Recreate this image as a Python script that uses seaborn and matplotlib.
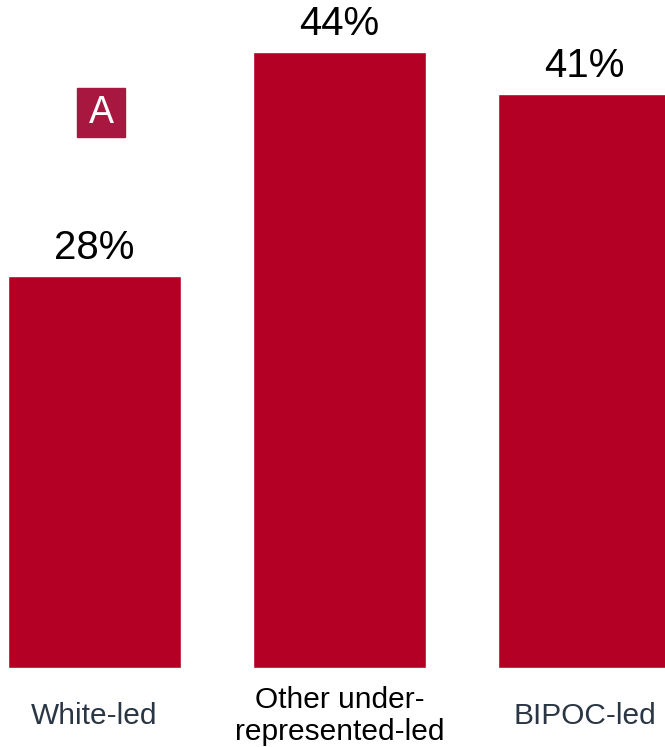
import matplotlib
matplotlib.use("Agg")
import matplotlib.pyplot as plt
import matplotlib.patches as mpatches
import pandas as pd
import seaborn as sns

# values
categories = ["White-led", "Other under-\nrepresented-led", "BIPOC-led"]
shares = [28, 44, 41]
value_labels = ["28%", "44%", "41%"]
label_colors = ["#2b3645", "#000000", "#2b3645"]

df = pd.DataFrame({"group": categories, "share": shares})

sns.set_style("white")
plt.rcParams["font.family"] = ["Liberation Sans", "DejaVu Sans"]

fig = plt.figure(figsize=(6.65, 7.47), dpi=100)
ax = fig.add_axes([0, 1 - 668 / 747, 1, 668 / 747])

sns.barplot(data=df, x="group", y="share", color="#b30024", width=0.706,
            saturation=1, ax=ax)

ax.set_xlim(-0.386, 2.329)
ax.set_ylim(0, 47.68)
ax.set_xlabel("")
ax.set_ylabel("")
ax.set_yticks([])
ax.set_xticks([])
sns.despine(ax=ax, left=True, bottom=True)

# percentage labels above bars
for i, (v, lab) in enumerate(zip(shares, value_labels)):
    ax.annotate(lab, (i, v), xytext=(0, 20), textcoords="offset points",
                ha="center", va="center", fontsize=29, color="black")

# category labels under the bars
for i, (cat, col) in enumerate(zip(categories, label_colors)):
    ax.annotate(cat, (i, 1 - 716 / 747), xycoords=("data", "figure fraction"),
                ha="center", va="center", fontsize=21.5, color=col,
                linespacing=1.15, annotation_clip=False)

# small "A" badge
fig.patches.append(mpatches.Rectangle((77 / 665, 1 - 137 / 747), 48 / 665, 49 / 747,
                                      transform=fig.transFigure, color="#a8173f",
                                      zorder=5))
fig.text(101 / 665, 1 - 113 / 747, "A", ha="center", va="center", fontsize=27,
         color="white", zorder=6)

fig.savefig("out.png", dpi=100)
